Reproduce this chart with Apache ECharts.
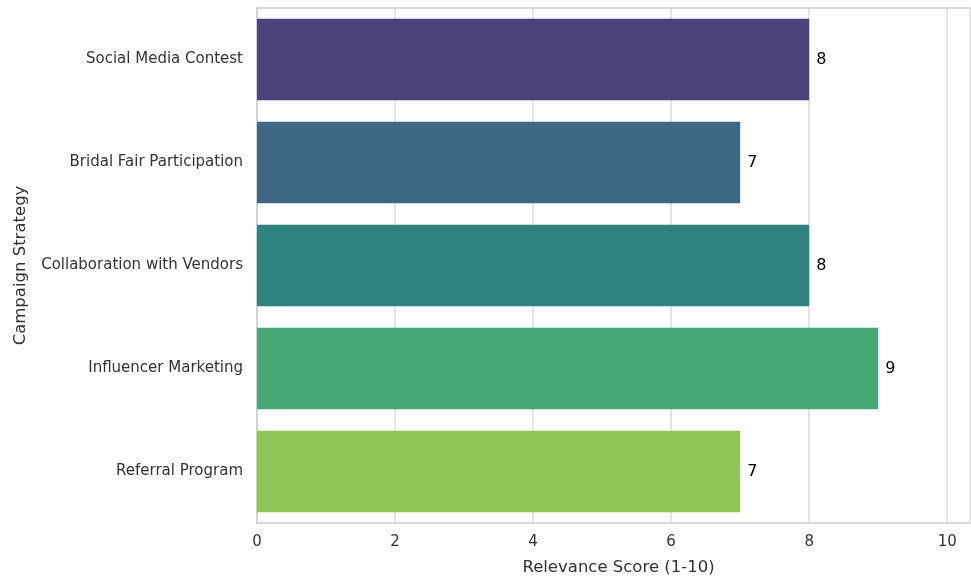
<!DOCTYPE html>
<html>
<head>
<meta charset="utf-8">
<script src="https://cdn.jsdelivr.net/npm/echarts@6/dist/echarts.min.js"></script>
<style>
	html, body { margin: 0; padding: 0; background: #fff; }
	#chart { width: 971px; height: 576px; }
</style>
</head>
<body>
<div id="chart"></div>
<script>
	// data
	var strategies = ['Social Media Contest', 'Bridal Fair Participation', 'Collaboration with Vendors', 'Influencer Marketing', 'Referral Program'];
	var scores = [8, 7, 8, 9, 7];
	var barColors = ['#4c417a', '#3e6783', '#2f847f', '#48a877', '#8fc657'];
	var xTicks = [0, 2, 4, 6, 8, 10];

	var myChart = echarts.init(document.getElementById('chart'));

	var spine = { show: true, lineStyle: { color: '#cccccc', width: 1.5 } };

	var option = {
		backgroundColor: '#ffffff',
		textStyle: { fontFamily: 'DejaVu Sans' },
		grid: {
			left: 257,
			top: 8,
			right: 1,
			bottom: 53,
			outerBoundsMode: 'none',
			containLabel: false
		},
		xAxis: [{
			type: 'value',
			min: 0,
			max: 10.33,
			interval: 2,
			name: 'Relevance Score (1-10)',
			nameLocation: 'middle',
			nameGap: 36,
			nameTextStyle: { fontSize: 16.5, color: '#333333', padding: [0, 0, 0, 10] },
			axisLine: spine,
			axisTick: { show: false },
			axisLabel: {
				fontSize: 15,
				color: '#333333',
				margin: 12,
				showMaxLabel: false,
				formatter: function (v) { return xTicks.indexOf(v) >= 0 ? String(v) : ''; }
			},
			splitLine: { show: true, lineStyle: { color: '#dddddd', width: 1.5 } }
		}, {
			// top spine only
			type: 'value',
			position: 'top',
			min: 0,
			max: 10.33,
			axisLine: spine,
			axisTick: { show: false },
			axisLabel: { show: false },
			splitLine: { show: false }
		}],
		yAxis: {
			type: 'category',
			data: strategies,
			inverse: true,
			name: 'Campaign Strategy',
			nameLocation: 'middle',
			nameGap: 228,
			nameTextStyle: { fontSize: 16.5, color: '#333333' },
			axisLine: spine,
			axisTick: { show: false },
			axisLabel: { fontSize: 15, color: '#333333', margin: 14 },
			splitLine: { show: false }
		},
		series: [{
			type: 'bar',
			data: scores.map(function (v, i) {
				return { value: v, itemStyle: { color: barColors[i] } };
			}),
			barCategoryGap: '21%',
			label: {
				show: true,
				position: 'right',
				distance: 7,
				fontSize: 16,
				color: '#000000'
			}
		}]
	};

	myChart.setOption(option);
</script>
</body>
</html>
